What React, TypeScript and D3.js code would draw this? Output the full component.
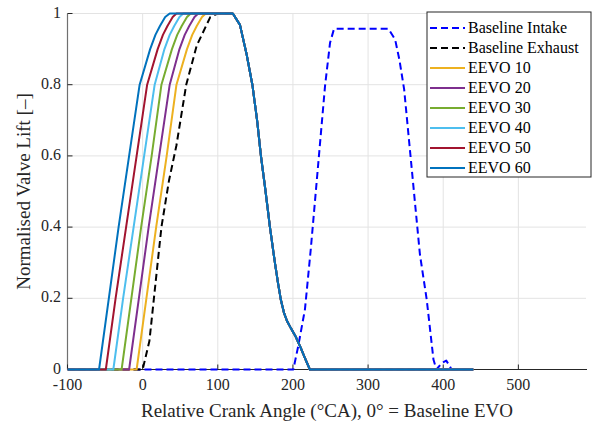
import React from "react";
import * as d3 from "d3";

// [crank angle °CA, normalised lift]
const baselineIntake: [number, number][] = [
  [-100, 0], [200.5, 0], [207, 0.065], [216, 0.169], [223.7, 0.337], [242.7, 0.796],
  [249.4, 0.918], [254.7, 0.957], [327, 0.957], [336, 0.927], [341.7, 0.87], [348, 0.787],
  [369, 0.323], [378, 0.197], [387, 0.028], [391, 0], [398, 0.018], [404, 0.025],
  [408, 0.012], [411, 0], [440, 0],
];

// closing flank shared by every exhaust profile
const exhaustClosing: [number, number][] = [
  [120, 1], [129.5, 0.968], [138.4, 0.885], [146, 0.8], [152.5, 0.697], [157.4, 0.6],
  [163.6, 0.5], [169.4, 0.4], [176, 0.3], [180, 0.245], [184, 0.195], [188, 0.16],
  [192, 0.137], [197, 0.117], [203, 0.095], [210, 0.063], [216, 0.032], [222.5, 0], [440, 0],
];

const baselineExhaustOpen: [number, number][] = [
  [-100, 0], [0, 0], [9, 0.08], [15, 0.2], [25, 0.4], [35, 0.53], [45, 0.63],
  [58, 0.8], [72, 0.91], [90, 0.99], [100, 1],
];
const eevo10Open: [number, number][] = [
  [-100, 0], [-8, 0], [5, 0.2], [18, 0.4], [32, 0.6], [45, 0.8], [59, 0.9], [66, 0.94], [72, 0.965], [79, 0.99], [84, 1],
];
const eevo20Open: [number, number][] = [
  [-100, 0], [-18, 0], [-5, 0.2], [8, 0.4], [22, 0.6], [36, 0.8], [49, 0.9], [56, 0.94], [62, 0.965], [69, 0.99], [74, 1],
];
const eevo30Open: [number, number][] = [
  [-100, 0], [-28, 0], [-15, 0.2], [-2, 0.4], [12, 0.6], [25, 0.8], [39, 0.9], [46, 0.94], [52, 0.965], [59, 0.99], [64, 1],
];
const eevo40Open: [number, number][] = [
  [-100, 0], [-39, 0], [-26, 0.2], [-12, 0.4], [2, 0.6], [16, 0.8], [29, 0.9], [36, 0.94], [42, 0.965], [49, 0.99], [54, 1],
];
const eevo50Open: [number, number][] = [
  [-100, 0], [-49, 0], [-36, 0.2], [-22, 0.4], [-8, 0.6], [6, 0.8], [20, 0.9], [27, 0.94], [33, 0.965], [40, 0.99], [45, 1],
];
const eevo60Open: [number, number][] = [
  [-100, 0], [-58, 0], [-45, 0.2], [-32, 0.4], [-18, 0.6], [-4, 0.8], [10, 0.9], [17, 0.94], [23, 0.965], [30, 0.99], [36, 1],
];

const xTicks = [-100, 0, 100, 200, 300, 400, 500];
const yTicks = [0, 0.2, 0.4, 0.6, 0.8, 1];

const series = [
  { name: "Baseline Intake", pts: baselineIntake, color: "#0000ff", dash: "7,4" },
  { name: "Baseline Exhaust", pts: [...baselineExhaustOpen, ...exhaustClosing], color: "#000000", dash: "7,4" },
  { name: "EEVO 10", pts: [...eevo10Open, ...exhaustClosing], color: "#EDB120", dash: null },
  { name: "EEVO 20", pts: [...eevo20Open, ...exhaustClosing], color: "#7E2F8E", dash: null },
  { name: "EEVO 30", pts: [...eevo30Open, ...exhaustClosing], color: "#77AC30", dash: null },
  { name: "EEVO 40", pts: [...eevo40Open, ...exhaustClosing], color: "#4DBEEE", dash: null },
  { name: "EEVO 50", pts: [...eevo50Open, ...exhaustClosing], color: "#A2142F", dash: null },
  { name: "EEVO 60", pts: [...eevo60Open, ...exhaustClosing], color: "#0072BD", dash: null },
];

const W = 596, H = 424;
const font = '"Liberation Serif", "Times New Roman", "DejaVu Serif", serif';

export default function App() {
  const x = d3.scaleLinear().domain([-100, 590]).range([67.5, 586]);
  const y = d3.scaleLinear().domain([0, 1]).range([369.5, 13.5]);
  const line = d3.line<[number, number]>().x(d => x(d[0])).y(d => y(d[1]));

  const legX = 427, legY = 12, rowH = 20;

  return (
    <svg width={W} height={H} style={{ position: "absolute", left: 0, top: 0, background: "#fff", fontFamily: font }}>
      <defs>
        <clipPath id="plot">
          <rect x={67.5} y={0} width={586 - 67.5} height={371} />
        </clipPath>
      </defs>
      {/* grid */}
      {xTicks.map(t => (
        <line key={"gx" + t} x1={x(t)} x2={x(t)} y1={y(0)} y2={y(1)} stroke="#e3e3e3" />
      ))}
      {yTicks.map(t => (
        <line key={"gy" + t} x1={x(-100)} x2={586} y1={y(t)} y2={y(t)} stroke="#e3e3e3" />
      ))}
      {/* axes */}
      <line x1={67.5} x2={67.5} y1={y(1)} y2={y(0)} stroke="#707070" strokeWidth={1.2} />
      <line x1={67.5} x2={587} y1={y(0)} y2={y(0)} stroke="#262626" strokeWidth={1.2} />
      {xTicks.map(t => (
        <g key={"tx" + t}>
          <line x1={x(t)} x2={x(t)} y1={y(0)} y2={y(0) - 5} stroke="#262626" />
          <text x={x(t)} y={390} textAnchor="middle" fontSize={16} fill="#262626">{t}</text>
        </g>
      ))}
      {yTicks.map(t => (
        <g key={"ty" + t}>
          <line x1={67.5} x2={72.5} y1={y(t)} y2={y(t)} stroke="#262626" />
          <text x={61} y={y(t) + 4} textAnchor="end" fontSize={16} fill="#262626">{t}</text>
        </g>
      ))}
      {/* curves */}
      <g clipPath="url(#plot)">
        {series.map(s => (
          <path key={s.name} d={line(s.pts) || ""} fill="none" stroke={s.color}
            strokeWidth={2} strokeLinejoin="round" strokeDasharray={s.dash || undefined} />
        ))}
      </g>
      {/* labels */}
      <text x={327} y={417} textAnchor="middle" fontSize={19} fill="#262626">
        Relative Crank Angle (°CA), 0° = Baseline EVO
      </text>
      <text transform={`translate(30, ${(y(0) + y(1)) / 2}) rotate(-90)`} textAnchor="middle"
        fontSize={19} fill="#262626">Normalised Valve Lift [–]</text>
      {/* legend */}
      <rect x={legX} y={legY} width={164} height={165} fill="#fff" stroke="#262626" strokeWidth={1} />
      {series.map((s, i) => (
        <g key={"l" + s.name}>
          <line x1={430} x2={465} y1={legY + 16 + i * rowH} y2={legY + 16 + i * rowH} stroke={s.color}
            strokeWidth={2} strokeDasharray={s.dash || undefined} />
          <text x={468} y={legY + 21 + i * rowH} fontSize={16} fill="#000">{s.name}</text>
        </g>
      ))}
    </svg>
  );
}
